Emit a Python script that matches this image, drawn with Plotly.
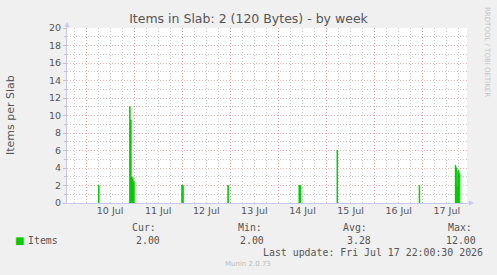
import plotly.graph_objects as go

# ---------------- data ----------------
# 30-minute samples, one list per burst of activity (value holds until next sample)
burst_times = [
    ["2026-07-10 06:00", "2026-07-10 06:30"],
    ["2026-07-10 21:30", "2026-07-10 22:00", "2026-07-10 22:30", "2026-07-10 23:00", "2026-07-10 23:30", "2026-07-11 00:00"],
    ["2026-07-11 23:30", "2026-07-12 00:30"],
    ["2026-07-12 22:30", "2026-07-12 23:00"],
    ["2026-07-14 10:00", "2026-07-14 11:00"],
    ["2026-07-15 05:00", "2026-07-15 05:30"],
    ["2026-07-16 22:00", "2026-07-16 22:30"],
    ["2026-07-17 16:00", "2026-07-17 16:30", "2026-07-17 17:00", "2026-07-17 17:30", "2026-07-17 18:00", "2026-07-17 18:30"],
]
burst_values = [
    [2, 0],
    [11, 9.5, 3, 2.8, 2.4, 0],
    [2, 0],
    [2, 0],
    [2, 0],
    [6, 0],
    [2, 0],
    [4.3, 4.0, 2.0, 3.7, 3.4, 0],
]

day_lines = ["2026-07-10", "2026-07-11", "2026-07-12", "2026-07-13",
             "2026-07-14", "2026-07-15", "2026-07-16", "2026-07-17"]
label_pos = ["2026-07-10 12:00", "2026-07-11 12:00", "2026-07-12 12:00", "2026-07-13 12:00",
             "2026-07-14 12:00", "2026-07-15 12:00", "2026-07-16 12:00", "2026-07-17 12:00"]
label_text = ["10 Jul", "11 Jul", "12 Jul", "13 Jul", "14 Jul", "15 Jul", "16 Jul", "17 Jul"]
x_range = ["2026-07-09 14:30", "2026-07-17 22:05"]

legend_stats = {"Cur:": "2.00", "Min:": "2.00", "Avg:": "3.28", "Max:": "12.00"}

# ---------------- layout helpers ----------------
W_FIG, H_FIG = 497, 275
L, R, T, B = 67, 467, 28, 203
PW, PH = R - L, B - T

def px(x):
    return (x - L) / PW

def py(y):
    return (B - y) / PH

GREEN = "#00CC00"
TXT = "#555555"
MONO = "DejaVu Sans Mono"
SANS = "DejaVu Sans"
MAJ = "rgba(225,110,110,0.5)"
MIN = "rgba(150,150,150,0.5)"
DASH = "1px,2px"
AXC = "#C8C8F4"

fig = go.Figure()
for bt, bv in zip(burst_times, burst_values):
    fig.add_trace(go.Scatter(
        x=bt, y=bv, mode="lines", line=dict(width=1, shape="hv", color=GREEN),
        fill="tozeroy", fillcolor=GREEN, showlegend=False, hoverinfo="skip"))
fig.add_trace(go.Scatter(
    x=label_pos, y=[0] * len(label_pos), xaxis="x2", mode="markers",
    marker=dict(opacity=0), showlegend=False, hoverinfo="skip"))

fig.update_layout(
    width=W_FIG, height=H_FIG,
    margin=dict(l=L, r=W_FIG - R, t=T, b=H_FIG - B, pad=0),
    paper_bgcolor="#F0F0F0", plot_bgcolor="white",
    showlegend=False,
    title=dict(text="Items in Slab: 2 (120 Bytes) - by week", x=0.5, xref="container",
               xanchor="center", y=1 - 19 / H_FIG, yanchor="middle",
               font=dict(family=SANS, size=12.5, color=TXT)),
    xaxis=dict(type="date", range=x_range, tickmode="array", tickvals=day_lines,
               showticklabels=False, ticks="", showgrid=True, gridcolor=MAJ, griddash=DASH,
               gridwidth=1, zeroline=False, showline=True, linecolor=AXC, linewidth=1,
               minor=dict(tickmode="linear", tick0="2026-07-10", dtick=6 * 3600 * 1000,
                          showgrid=True, gridcolor=MIN, griddash=DASH, gridwidth=1, ticks="")),
    xaxis2=dict(type="date", range=x_range, overlaying="x", anchor="y", side="bottom",
                tickmode="array", tickvals=label_pos, ticktext=label_text,
                showgrid=False, zeroline=False, showline=False, ticks="",
                tickfont=dict(family=SANS, size=9.5, color=TXT)),
    yaxis=dict(range=[0, 20], tickmode="linear", tick0=0, dtick=2,
               showgrid=True, gridcolor=MAJ, griddash=DASH, gridwidth=1,
               zeroline=False, showline=True, linecolor=AXC, linewidth=1,
               ticks="outside", ticklen=3, tickcolor=MAJ,
               tickfont=dict(family=SANS, size=9.5, color=TXT),
               minor=dict(tickmode="linear", tick0=0, dtick=1, showgrid=True,
                          gridcolor=MIN, griddash=DASH, gridwidth=1,
                          ticks="outside", ticklen=2, tickcolor=MIN)),
)

ann = []
ann.append(dict(text="Items per Slab", xref="paper", yref="paper", x=px(10), y=py(115),
                textangle=-90, showarrow=False, xanchor="center", yanchor="middle",
                font=dict(family=SANS, size=11, color=TXT)))
ann.append(dict(text="RRDTOOL / TOBI OETIKER", xref="paper", yref="paper", x=px(487), y=py(5),
                textangle=90, showarrow=False, xanchor="center", yanchor="top",
                font=dict(family=SANS, size=7, color="#C4C4C4")))
ann.append(dict(text="", xref="paper", yref="paper", x=px(474), y=0, axref="pixel", ayref="pixel",
                ax=-8, ay=0, showarrow=True, arrowhead=2, arrowsize=1, arrowwidth=1, arrowcolor=AXC))
ann.append(dict(text="", xref="paper", yref="paper", x=0, y=py(22), axref="pixel", ayref="pixel",
                ax=0, ay=8, showarrow=True, arrowhead=2, arrowsize=1, arrowwidth=1, arrowcolor=AXC))
mono = dict(family=MONO, size=9.9, color=TXT)
ann.append(dict(text="■", xref="paper", yref="paper", x=px(13), y=py(240), showarrow=False,
                xanchor="left", yanchor="middle", font=dict(family=SANS, size=10, color=GREEN)))
ann.append(dict(text="Items", xref="paper", yref="paper", x=px(26), y=py(240), showarrow=False,
                xanchor="left", yanchor="middle", font=mono))
head_x = [131, 237, 342, 447]
val_right = [161, 265, 372, 477]
for (h, v), hx, vr in zip(legend_stats.items(), head_x, val_right):
    ann.append(dict(text=h, xref="paper", yref="paper", x=px(hx - 1), y=py(227), showarrow=False,
                    xanchor="left", yanchor="middle", font=mono))
    ann.append(dict(text=v, xref="paper", yref="paper", x=px(vr + 1), y=py(240), showarrow=False,
                    xanchor="right", yanchor="middle", font=mono))
ann.append(dict(text="Last update: Fri Jul 17 22:00:30 2026", xref="paper", yref="paper",
                x=px(261), y=py(252), showarrow=False, xanchor="left", yanchor="middle", font=mono))
ann.append(dict(text="Munin 2.0.73", xref="paper", yref="paper", x=px(248), y=py(264),
                showarrow=False, xanchor="center", yanchor="middle",
                font=dict(family=SANS, size=7, color="#BBBBBB")))
fig.update_layout(annotations=ann)

fig.write_html("out.html", config={"displayModeBar": False})
